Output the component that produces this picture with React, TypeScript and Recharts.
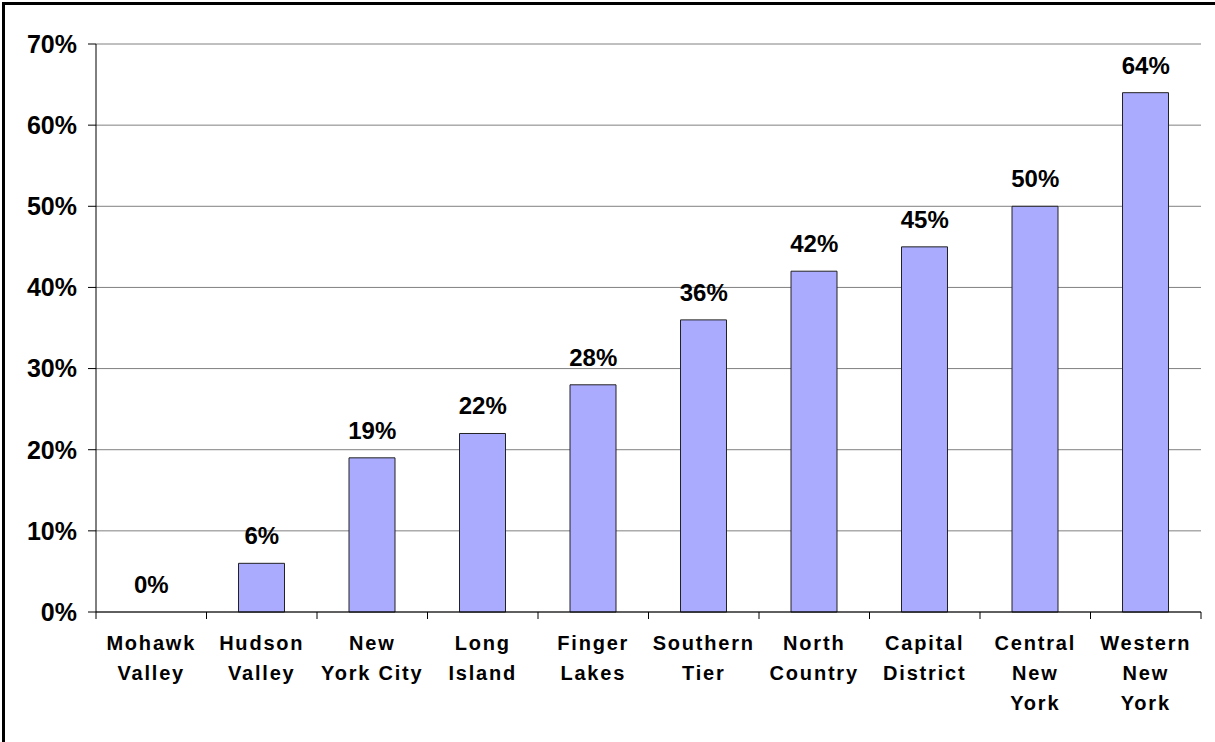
import React from 'react';
import { ComposedChart, Bar, Line, XAxis, YAxis, CartesianGrid, LabelList } from 'recharts';

const regions = [
  'Mohawk Valley',
  'Hudson Valley',
  'New York City',
  'Long Island',
  'Finger Lakes',
  'Southern Tier',
  'North Country',
  'Capital District',
  'Central New York',
  'Western New York',
];

// how each category name wraps under the axis
const regionLines = [
  ['Mohawk', 'Valley'],
  ['Hudson', 'Valley'],
  ['New', 'York City'],
  ['Long', 'Island'],
  ['Finger', 'Lakes'],
  ['Southern', 'Tier'],
  ['North', 'Country'],
  ['Capital', 'District'],
  ['Central', 'New', 'York'],
  ['Western', 'New', 'York'],
];

const shares = [0, 0.06, 0.19, 0.22, 0.28, 0.36, 0.42, 0.45, 0.5, 0.64];

const yTicks = [0, 0.1, 0.2, 0.3, 0.4, 0.5, 0.6, 0.7];

const data = regions.map((name, i) => ({ name, value: shares[i] }));

const FONT = 'Arial, "Liberation Sans", sans-serif';

const pct = (v: number) => `${Math.round(v * 100)}%`;

const RegionTick = (props: any) => {
  const { x, y, payload, index } = props;
  const lines = regionLines[index] || [payload.value];
  const half = payload.offset || 0;
  return (
    <g>
      <line x1={x - half} x2={x - half} y1={y - 8} y2={y - 1} stroke="#000" />
      {index === regions.length - 1 && (
        <line x1={x + half} x2={x + half} y1={y - 8} y2={y - 1} stroke="#000" />
      )}
      {lines.map((t: string, k: number) => (
        <text
          key={k}
          x={x}
          y={y + 30 + k * 30}
          textAnchor="middle"
          fontFamily={FONT}
          fontWeight="bold"
          fontSize={20}
          letterSpacing={1.8}
          fill="#000"
        >
          {t}
        </text>
      ))}
    </g>
  );
};

export default function App() {
  return (
    <div style={{ position: 'absolute', left: 0, top: 0, width: 1215, height: 742, overflow: 'hidden', background: '#fff' }}>
      <div
        style={{
          position: 'absolute',
          left: 2,
          top: 2,
          width: 1300,
          height: 800,
          borderLeft: '3px solid #000',
          borderTop: '3px solid #000',
        }}
      />
      <div style={{ position: 'absolute', left: 0, top: 0 }}>
        <ComposedChart
          width={1215}
          height={742}
          data={data}
          margin={{ top: 44, right: 14, bottom: 0, left: 0 }}
          barSize={46}
        >
          <CartesianGrid horizontal vertical={false} stroke="#808080" />
          <XAxis
            dataKey="name"
            height={130}
            interval={0}
            tickLine={false}
            axisLine={{ stroke: '#000' }}
            tick={<RegionTick />}
          />
          <YAxis
            width={96}
            domain={[0, 0.7]}
            ticks={yTicks}
            tickFormatter={pct}
            tickSize={8}
            tickMargin={11}
            tickLine={{ stroke: '#000' }}
            axisLine={{ stroke: '#000' }}
            tick={{ fill: '#000', fontFamily: FONT, fontWeight: 'bold', fontSize: 25 }}
          />
          <YAxis
            yAxisId="frame"
            orientation="right"
            width={0}
            tick={false}
            tickLine={false}
            axisLine={{ stroke: '#808080' }}
          />
          <Bar dataKey="value" fill="#AAAAFF" stroke="#222" strokeWidth={1} isAnimationActive={false} />
          {/* invisible series that carries the value labels, so 0% still shows */}
          <Line dataKey="value" stroke="none" dot={false} activeDot={false} isAnimationActive={false}>
            <LabelList
              dataKey="value"
              position="top"
              offset={19}
              formatter={(v: any) => pct(Number(v))}
              style={{ fill: '#000', fontFamily: FONT, fontWeight: 'bold', fontSize: 24 }}
            />
          </Line>
        </ComposedChart>
      </div>
    </div>
  );
}
